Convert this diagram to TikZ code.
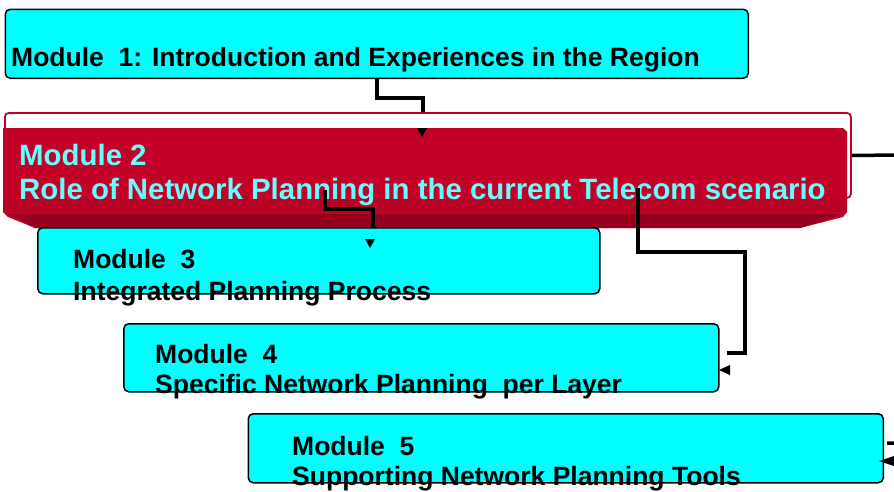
\documentclass[tikz,border=0pt]{standalone}
\usepackage{fontspec}
\setmainfont{Liberation Sans}
\definecolor{cyanbox}{RGB}{0,255,255}
\definecolor{mred}{RGB}{194,0,40}
\definecolor{mredb}{RGB}{182,0,36}
\definecolor{mdark}{RGB}{150,0,30}
\definecolor{mtxt}{RGB}{102,255,255}
\tikzset{
  cbox/.style={draw=black, line width=1.5pt, fill=cyanbox, rounded corners=5pt, inner sep=0pt, anchor=north west},
  mtext/.style={inner sep=0pt, anchor=base west, font=\fontsize{26.5}{30}\selectfont\bfseries, text=black},
  rtext/.style={inner sep=0pt, anchor=base west, font=\fontsize{29.4}{34}\selectfont\bfseries, text=mtxt},
  conn/.style={draw=black, line width=3.5pt},
  tipfill/.style={fill=black}
}
\begin{document}
\begin{tikzpicture}[x=1pt,y=-1pt]
\useasboundingbox (0,0) rectangle (894,491);
\clip (0,0) rectangle (894,491);
% named points
\coordinate (j1) at (377,98);
\coordinate (a1) at (423,128);
\coordinate (t1) at (422,137);
\coordinate (s2) at (325,190);
\coordinate (j2) at (373,209);
\coordinate (t2) at (370,248);
\coordinate (s3) at (638,188);
\coordinate (j3) at (745,252);
\coordinate (e3) at (727,353);
\coordinate (t3) at (719,370);
\coordinate (j4) at (910,155);
\coordinate (e4) at (887,443);
\coordinate (t4) at (879,461);
% Module 1
\node[cbox, minimum width=743pt, minimum height=69pt] (m1) at (4.5,8.5) {};
\node[mtext] (m1t) at (11,66) {Module\ \ 1: Introduction and Experiences in the Region};
% connector 1 (hidden under module 2 top)
\draw[conn] (m1.south -| j1) -- (j1) -| (a1);
% Module 2
\node[draw=mred, line width=1.8pt, fill=white, rounded corners=4pt, inner sep=0pt, anchor=north west,
      minimum width=846pt, minimum height=85pt] (m2) at (4,112) {};
\fill[mred] (3,128) -- (843,128) -- (847,132) -- (847,212) -- (843,217) -- (800,228)
  -- (35,228) -- (8,217) -- (3,212) -- cycle;
\fill[mredb] (3,199) -- (847,199) -- (847,212) -- (3,212) -- cycle;
\fill[mdark] (8,214) -- (843,214) -- (800,228) -- (35,228) -- cycle;
\node[rtext] (m2a) at (19,165.5) {Module 2};
\node[rtext] (m2b) at (19,199.3) {Role of Network Planning in the current Telecom scenario};
% connector 2
\draw[conn] (s2) |- (j2) -- (j2 |- 0,227);
% connector 3
\draw[conn] (s3) |- (j3) |- (e3);
% connector 4
\draw[conn] (m2.east) -- (j4) |- (e4);
% Module 3
\node[cbox, minimum width=562pt, minimum height=66pt] (m3) at (37,227) {};
\node[mtext] (m3a) at (73,268) {Module\ \ 3};
\node[mtext] (m3b) at (73,300) {Integrated Planning Process};
% Module 4
\node[cbox, minimum width=595pt, minimum height=68pt] (m4) at (123,323) {};
\node[mtext] (m4a) at (155,363) {Module\ \ 4};
\node[mtext] (m4b) at (155,393) {Specific Network Planning\ \ per Layer};
% Module 5
\node[cbox, minimum width=635pt, minimum height=69pt] (m5) at (247.5,413) {};
\node[mtext] (m5a) at (292,455) {Module\ \ 5};
\node[mtext] (m5b) at (292,485) {Supporting Network Planning Tools};
% arrowheads
\fill[tipfill] (t1) -- ++(-5,-9) -- ++(10,0) -- cycle;
\fill[tipfill] (t2) -- ++(-5,-9) -- ++(10,0) -- cycle;
\fill[tipfill] (t3) -- ++(11,-5) -- ++(0,10) -- cycle;
\fill[tipfill] (t4) -- ++(15,-5) -- ++(0,10) -- cycle;
\end{tikzpicture}
\end{document}
